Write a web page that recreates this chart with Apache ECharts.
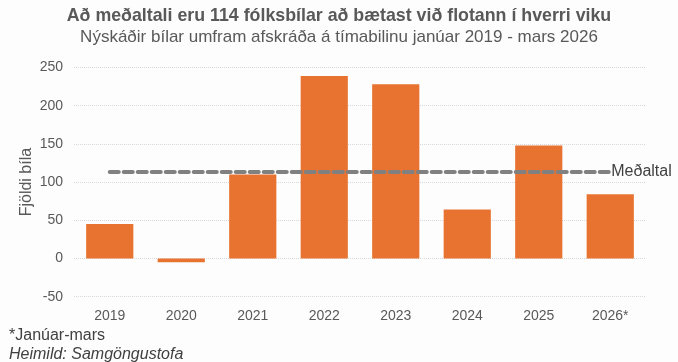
<!DOCTYPE html>
<html><head><meta charset="utf-8">
<script src="https://cdn.jsdelivr.net/npm/echarts@6/dist/echarts.min.js"></script>
<style>html,body{margin:0;padding:0;background:#fdfdfd}#c{width:678px;height:362px}</style>
</head><body><div id="c"></div>
<script>
const categories = ['2019','2020','2021','2022','2023','2024','2025','2026*'];
const values = [45, -5, 110, 239, 228, 64, 148, 84];
const average = 114;
const yTicks = {min: -50, max: 250, interval: 50};

const chart = echarts.init(document.getElementById('c'), null, {renderer: 'canvas'});
const txt = '#595959';
const ff = 'Liberation Sans, Arial';
chart.setOption({
  backgroundColor: '#fdfdfd',
  animation: false,
  title: [
    {text: 'Að meðaltali eru 114 fólksbílar að bætast við flotann í hverri viku', left: 'center', top: 2,
     textStyle: {fontFamily: ff, fontSize: 17.8, fontWeight: 'bold', color: txt}},
    {text: 'Nýskáðir bílar umfram afskráða á tímabilinu janúar 2019 - mars 2026', left: 'center', top: 24,
     textStyle: {fontFamily: ff, fontSize: 17, fontWeight: 'normal', color: txt}},
    {text: '*Janúar-mars', left: 4, top: 323,
     textStyle: {fontFamily: ff, fontSize: 16, fontWeight: 'normal', color: '#404040'}},
    {text: 'Heimild: Samgöngustofa', left: 4, top: 342,
     textStyle: {fontFamily: ff, fontSize: 16, fontWeight: 'normal', fontStyle: 'italic', color: '#404040'}}
  ],
  grid: {left: 74, right: 32, top: 67.5, bottom: 65.3},
  xAxis: {
    type: 'category', data: categories,
    axisLine: {show: false, onZero: false}, axisTick: {show: false},
    axisLabel: {color: txt, fontSize: 14, fontFamily: ff, margin: 12}
  },
  yAxis: {
    type: 'value', min: yTicks.min, max: yTicks.max, interval: yTicks.interval,
    name: 'Fjöldi bíla', nameLocation: 'middle', nameGap: 39, nameRotate: 90, nameMoveOverlap: false,
    nameTextStyle: {color: txt, fontSize: 16, fontFamily: ff},
    axisLabel: {color: txt, fontSize: 14, fontFamily: ff, margin: 11},
    axisLine: {show: false}, axisTick: {show: false},
    splitLine: {lineStyle: {color: '#d9d9d9', type: 'dotted', width: 1}}
  },
  series: [{
    type: 'bar', data: values, barCategoryGap: '34%',
    itemStyle: {color: '#E87331'},
    markLine: {
      silent: true, symbol: 'none',
      data: [
        [{coord: [categories[0], average], lineStyle: {color: '#808080', width: 4, type: [9, 5], cap: 'round'},
          label: {show: true, position: 'end', formatter: 'Meðaltal', color: '#404040', fontSize: 16, fontFamily: ff, distance: 1}},
         {coord: [categories[categories.length - 1], average]}],
        [{coord: [-0.5, 0], lineStyle: {color: '#d9d9d9', width: 1, type: 'solid'}, label: {show: false}},
         {coord: [categories.length - 0.5, 0]}]
      ]
    }
  }]
});
</script></body></html>
